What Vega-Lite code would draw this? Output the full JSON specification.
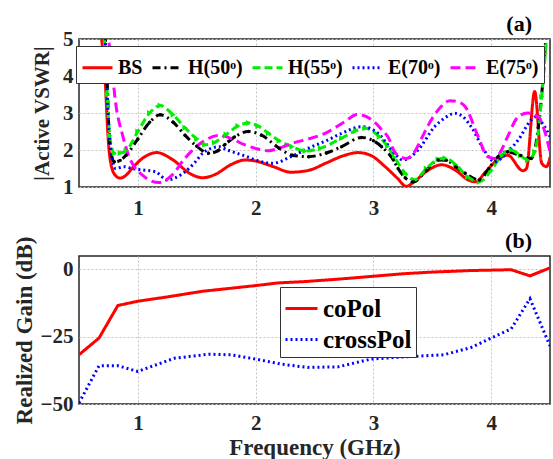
{
  "$schema": "https://vega.github.io/schema/vega-lite/v6.json",
  "background": "white",
  "padding": {"left": 12, "top": 12, "right": 6, "bottom": 5},
  "spacing": 10,
  "resolve": {"scale": {"color": "independent", "strokeDash": "independent"}, "legend": {"color": "independent", "strokeDash": "independent"}},
  "config": {
    "font": "Liberation Serif",
    "view": {"stroke": "#262626", "strokeWidth": 1.5},
    "axis": {
      "labelFont": "Liberation Serif", "labelFontWeight": "bold", "labelFontSize": 21, "labelColor": "#262626",
      "titleFont": "Liberation Serif", "titleFontWeight": "bold", "titleFontSize": 23, "titleColor": "#262626",
      "grid": true, "gridColor": "#c4c4c4", "gridDash": [2, 2], "gridWidth": 1,
      "domain": false, "ticks": false
    },
    "title": {"font": "Liberation Serif", "fontWeight": "bold", "fontSize": 22, "color": "#000000", "frame": "group"}
  },
  "datasets": {
    "vswr": [
      {"series": "BS", "f": 0.68, "v": 5.3}, {"series": "BS", "f": 0.72, "v": 4.0}, {"series": "BS", "f": 0.75, "v": 2.2}, {"series": "BS", "f": 0.78, "v": 1.5}, {"series": "BS", "f": 0.82, "v": 1.28}, {"series": "BS", "f": 0.85, "v": 1.24}, {"series": "BS", "f": 0.9, "v": 1.32}, {"series": "BS", "f": 0.95, "v": 1.5}, {"series": "BS", "f": 1.05, "v": 1.8}, {"series": "BS", "f": 1.16, "v": 1.93}, {"series": "BS", "f": 1.29, "v": 1.75}, {"series": "BS", "f": 1.45, "v": 1.35}, {"series": "BS", "f": 1.55, "v": 1.25}, {"series": "BS", "f": 1.65, "v": 1.33}, {"series": "BS", "f": 1.8, "v": 1.62}, {"series": "BS", "f": 1.91, "v": 1.73}, {"series": "BS", "f": 2.0, "v": 1.7}, {"series": "BS", "f": 2.15, "v": 1.55}, {"series": "BS", "f": 2.3, "v": 1.4}, {"series": "BS", "f": 2.45, "v": 1.45}, {"series": "BS", "f": 2.6, "v": 1.65}, {"series": "BS", "f": 2.75, "v": 1.85}, {"series": "BS", "f": 2.87, "v": 1.93}, {"series": "BS", "f": 2.98, "v": 1.85}, {"series": "BS", "f": 3.1, "v": 1.55}, {"series": "BS", "f": 3.2, "v": 1.25}, {"series": "BS", "f": 3.28, "v": 1.02}, {"series": "BS", "f": 3.35, "v": 1.15}, {"series": "BS", "f": 3.45, "v": 1.42}, {"series": "BS", "f": 3.58, "v": 1.6}, {"series": "BS", "f": 3.7, "v": 1.45}, {"series": "BS", "f": 3.8, "v": 1.2}, {"series": "BS", "f": 3.87, "v": 1.14}, {"series": "BS", "f": 3.95, "v": 1.4}, {"series": "BS", "f": 4.05, "v": 1.72}, {"series": "BS", "f": 4.14, "v": 1.86}, {"series": "BS", "f": 4.27, "v": 1.44}, {"series": "BS", "f": 4.3, "v": 1.5}, {"series": "BS", "f": 4.37, "v": 3.58}, {"series": "BS", "f": 4.43, "v": 1.64}, {"series": "BS", "f": 4.47, "v": 1.55}, {"series": "BS", "f": 4.5, "v": 1.8},

      {"series": "H(50ᵒ)", "f": 0.72, "v": 5.3}, {"series": "H(50ᵒ)", "f": 0.74, "v": 3.8}, {"series": "H(50ᵒ)", "f": 0.76, "v": 2.2}, {"series": "H(50ᵒ)", "f": 0.8, "v": 1.68}, {"series": "H(50ᵒ)", "f": 0.85, "v": 1.72}, {"series": "H(50ᵒ)", "f": 0.9, "v": 1.86}, {"series": "H(50ᵒ)", "f": 1.0, "v": 2.3}, {"series": "H(50ᵒ)", "f": 1.1, "v": 2.75}, {"series": "H(50ᵒ)", "f": 1.19, "v": 2.95}, {"series": "H(50ᵒ)", "f": 1.3, "v": 2.75}, {"series": "H(50ᵒ)", "f": 1.4, "v": 2.4}, {"series": "H(50ᵒ)", "f": 1.5, "v": 2.1}, {"series": "H(50ᵒ)", "f": 1.6, "v": 1.91}, {"series": "H(50ᵒ)", "f": 1.68, "v": 1.98}, {"series": "H(50ᵒ)", "f": 1.74, "v": 2.15}, {"series": "H(50ᵒ)", "f": 1.82, "v": 2.35}, {"series": "H(50ᵒ)", "f": 1.94, "v": 2.5}, {"series": "H(50ᵒ)", "f": 2.05, "v": 2.4}, {"series": "H(50ᵒ)", "f": 2.2, "v": 2.05}, {"series": "H(50ᵒ)", "f": 2.31, "v": 1.86}, {"series": "H(50ᵒ)", "f": 2.45, "v": 1.82}, {"series": "H(50ᵒ)", "f": 2.6, "v": 1.92}, {"series": "H(50ᵒ)", "f": 2.73, "v": 2.09}, {"series": "H(50ᵒ)", "f": 2.9, "v": 2.34}, {"series": "H(50ᵒ)", "f": 3.0, "v": 2.25}, {"series": "H(50ᵒ)", "f": 3.07, "v": 2.09}, {"series": "H(50ᵒ)", "f": 3.17, "v": 1.73}, {"series": "H(50ᵒ)", "f": 3.21, "v": 1.5}, {"series": "H(50ᵒ)", "f": 3.27, "v": 1.25}, {"series": "H(50ᵒ)", "f": 3.34, "v": 1.14}, {"series": "H(50ᵒ)", "f": 3.45, "v": 1.45}, {"series": "H(50ᵒ)", "f": 3.55, "v": 1.73}, {"series": "H(50ᵒ)", "f": 3.62, "v": 1.72}, {"series": "H(50ᵒ)", "f": 3.7, "v": 1.55}, {"series": "H(50ᵒ)", "f": 3.78, "v": 1.37}, {"series": "H(50ᵒ)", "f": 3.9, "v": 1.19}, {"series": "H(50ᵒ)", "f": 3.98, "v": 1.5}, {"series": "H(50ᵒ)", "f": 4.06, "v": 1.82}, {"series": "H(50ᵒ)", "f": 4.14, "v": 1.95}, {"series": "H(50ᵒ)", "f": 4.25, "v": 1.85}, {"series": "H(50ᵒ)", "f": 4.34, "v": 1.77}, {"series": "H(50ᵒ)", "f": 4.4, "v": 2.6}, {"series": "H(50ᵒ)", "f": 4.44, "v": 3.9}, {"series": "H(50ᵒ)", "f": 4.47, "v": 5.3},

      {"series": "H(55ᵒ)", "f": 0.71, "v": 5.3}, {"series": "H(55ᵒ)", "f": 0.74, "v": 3.5}, {"series": "H(55ᵒ)", "f": 0.76, "v": 2.4}, {"series": "H(55ᵒ)", "f": 0.8, "v": 1.91}, {"series": "H(55ᵒ)", "f": 0.85, "v": 1.92}, {"series": "H(55ᵒ)", "f": 0.9, "v": 1.98}, {"series": "H(55ᵒ)", "f": 1.0, "v": 2.5}, {"series": "H(55ᵒ)", "f": 1.1, "v": 3.0}, {"series": "H(55ᵒ)", "f": 1.19, "v": 3.2}, {"series": "H(55ᵒ)", "f": 1.3, "v": 2.95}, {"series": "H(55ᵒ)", "f": 1.4, "v": 2.6}, {"series": "H(55ᵒ)", "f": 1.5, "v": 2.3}, {"series": "H(55ᵒ)", "f": 1.57, "v": 2.14}, {"series": "H(55ᵒ)", "f": 1.65, "v": 2.2}, {"series": "H(55ᵒ)", "f": 1.75, "v": 2.42}, {"series": "H(55ᵒ)", "f": 1.85, "v": 2.65}, {"series": "H(55ᵒ)", "f": 1.94, "v": 2.73}, {"series": "H(55ᵒ)", "f": 2.02, "v": 2.65}, {"series": "H(55ᵒ)", "f": 2.11, "v": 2.45}, {"series": "H(55ᵒ)", "f": 2.2, "v": 2.25}, {"series": "H(55ᵒ)", "f": 2.31, "v": 2.09}, {"series": "H(55ᵒ)", "f": 2.42, "v": 1.97}, {"series": "H(55ᵒ)", "f": 2.55, "v": 2.05}, {"series": "H(55ᵒ)", "f": 2.73, "v": 2.32}, {"series": "H(55ᵒ)", "f": 2.85, "v": 2.52}, {"series": "H(55ᵒ)", "f": 2.93, "v": 2.59}, {"series": "H(55ᵒ)", "f": 3.05, "v": 2.36}, {"series": "H(55ᵒ)", "f": 3.12, "v": 2.1}, {"series": "H(55ᵒ)", "f": 3.18, "v": 1.8}, {"series": "H(55ᵒ)", "f": 3.27, "v": 1.37}, {"series": "H(55ᵒ)", "f": 3.35, "v": 1.19}, {"series": "H(55ᵒ)", "f": 3.45, "v": 1.5}, {"series": "H(55ᵒ)", "f": 3.55, "v": 1.75}, {"series": "H(55ᵒ)", "f": 3.61, "v": 1.78}, {"series": "H(55ᵒ)", "f": 3.7, "v": 1.6}, {"series": "H(55ᵒ)", "f": 3.8, "v": 1.28}, {"series": "H(55ᵒ)", "f": 3.9, "v": 1.14}, {"series": "H(55ᵒ)", "f": 4.0, "v": 1.45}, {"series": "H(55ᵒ)", "f": 4.09, "v": 1.86}, {"series": "H(55ᵒ)", "f": 4.17, "v": 2.0}, {"series": "H(55ᵒ)", "f": 4.25, "v": 1.85}, {"series": "H(55ᵒ)", "f": 4.31, "v": 1.73}, {"series": "H(55ᵒ)", "f": 4.37, "v": 1.95}, {"series": "H(55ᵒ)", "f": 4.43, "v": 3.44}, {"series": "H(55ᵒ)", "f": 4.46, "v": 4.6}, {"series": "H(55ᵒ)", "f": 4.48, "v": 5.3},

      {"series": "E(70ᵒ)", "f": 0.72, "v": 5.3}, {"series": "E(70ᵒ)", "f": 0.74, "v": 3.5}, {"series": "E(70ᵒ)", "f": 0.76, "v": 2.32}, {"series": "E(70ᵒ)", "f": 0.81, "v": 1.5}, {"series": "E(70ᵒ)", "f": 0.88, "v": 1.55}, {"series": "E(70ᵒ)", "f": 0.95, "v": 1.5}, {"series": "E(70ᵒ)", "f": 1.04, "v": 1.46}, {"series": "E(70ᵒ)", "f": 1.15, "v": 1.41}, {"series": "E(70ᵒ)", "f": 1.25, "v": 1.19}, {"series": "E(70ᵒ)", "f": 1.32, "v": 1.25}, {"series": "E(70ᵒ)", "f": 1.4, "v": 1.41}, {"series": "E(70ᵒ)", "f": 1.48, "v": 1.65}, {"series": "E(70ᵒ)", "f": 1.55, "v": 1.91}, {"series": "E(70ᵒ)", "f": 1.69, "v": 2.09}, {"series": "E(70ᵒ)", "f": 1.76, "v": 2.0}, {"series": "E(70ᵒ)", "f": 1.9, "v": 1.85}, {"series": "E(70ᵒ)", "f": 2.03, "v": 1.7}, {"series": "E(70ᵒ)", "f": 2.14, "v": 1.64}, {"series": "E(70ᵒ)", "f": 2.3, "v": 1.82}, {"series": "E(70ᵒ)", "f": 2.45, "v": 2.05}, {"series": "E(70ᵒ)", "f": 2.6, "v": 2.25}, {"series": "E(70ᵒ)", "f": 2.73, "v": 2.45}, {"series": "E(70ᵒ)", "f": 2.9, "v": 2.63}, {"series": "E(70ᵒ)", "f": 3.04, "v": 2.45}, {"series": "E(70ᵒ)", "f": 3.12, "v": 2.15}, {"series": "E(70ᵒ)", "f": 3.18, "v": 1.91}, {"series": "E(70ᵒ)", "f": 3.25, "v": 1.73}, {"series": "E(70ᵒ)", "f": 3.38, "v": 2.0}, {"series": "E(70ᵒ)", "f": 3.52, "v": 2.63}, {"series": "E(70ᵒ)", "f": 3.6, "v": 2.85}, {"series": "E(70ᵒ)", "f": 3.69, "v": 2.99}, {"series": "E(70ᵒ)", "f": 3.76, "v": 2.9}, {"series": "E(70ᵒ)", "f": 3.83, "v": 2.63}, {"series": "E(70ᵒ)", "f": 3.95, "v": 1.95}, {"series": "E(70ᵒ)", "f": 4.03, "v": 1.68}, {"series": "E(70ᵒ)", "f": 4.14, "v": 1.95}, {"series": "E(70ᵒ)", "f": 4.23, "v": 2.27}, {"series": "E(70ᵒ)", "f": 4.34, "v": 2.81}, {"series": "E(70ᵒ)", "f": 4.38, "v": 2.9}, {"series": "E(70ᵒ)", "f": 4.44, "v": 2.7}, {"series": "E(70ᵒ)", "f": 4.5, "v": 2.36},

      {"series": "E(75ᵒ)", "f": 0.74, "v": 5.3}, {"series": "E(75ᵒ)", "f": 0.78, "v": 4.2}, {"series": "E(75ᵒ)", "f": 0.81, "v": 3.3}, {"series": "E(75ᵒ)", "f": 0.87, "v": 2.4}, {"series": "E(75ᵒ)", "f": 0.92, "v": 1.86}, {"series": "E(75ᵒ)", "f": 0.98, "v": 1.5}, {"series": "E(75ᵒ)", "f": 1.04, "v": 1.32}, {"series": "E(75ᵒ)", "f": 1.1, "v": 1.18}, {"series": "E(75ᵒ)", "f": 1.18, "v": 1.12}, {"series": "E(75ᵒ)", "f": 1.29, "v": 1.32}, {"series": "E(75ᵒ)", "f": 1.4, "v": 1.78}, {"series": "E(75ᵒ)", "f": 1.55, "v": 2.22}, {"series": "E(75ᵒ)", "f": 1.7, "v": 2.4}, {"series": "E(75ᵒ)", "f": 1.8, "v": 2.3}, {"series": "E(75ᵒ)", "f": 1.9, "v": 2.15}, {"series": "E(75ᵒ)", "f": 2.03, "v": 2.02}, {"series": "E(75ᵒ)", "f": 2.11, "v": 1.98}, {"series": "E(75ᵒ)", "f": 2.2, "v": 2.05}, {"series": "E(75ᵒ)", "f": 2.31, "v": 2.18}, {"series": "E(75ᵒ)", "f": 2.45, "v": 2.3}, {"series": "E(75ᵒ)", "f": 2.59, "v": 2.45}, {"series": "E(75ᵒ)", "f": 2.76, "v": 2.77}, {"series": "E(75ᵒ)", "f": 2.86, "v": 2.96}, {"series": "E(75ᵒ)", "f": 2.99, "v": 2.81}, {"series": "E(75ᵒ)", "f": 3.07, "v": 2.55}, {"series": "E(75ᵒ)", "f": 3.13, "v": 2.32}, {"series": "E(75ᵒ)", "f": 3.18, "v": 1.95}, {"series": "E(75ᵒ)", "f": 3.23, "v": 1.82}, {"series": "E(75ᵒ)", "f": 3.28, "v": 1.77}, {"series": "E(75ᵒ)", "f": 3.35, "v": 1.95}, {"series": "E(75ᵒ)", "f": 3.41, "v": 2.32}, {"series": "E(75ᵒ)", "f": 3.48, "v": 2.75}, {"series": "E(75ᵒ)", "f": 3.55, "v": 3.08}, {"series": "E(75ᵒ)", "f": 3.65, "v": 3.33}, {"series": "E(75ᵒ)", "f": 3.72, "v": 3.3}, {"series": "E(75ᵒ)", "f": 3.78, "v": 3.17}, {"series": "E(75ᵒ)", "f": 3.89, "v": 2.36}, {"series": "E(75ᵒ)", "f": 3.97, "v": 1.82}, {"series": "E(75ᵒ)", "f": 4.03, "v": 1.77}, {"series": "E(75ᵒ)", "f": 4.08, "v": 1.95}, {"series": "E(75ᵒ)", "f": 4.14, "v": 2.36}, {"series": "E(75ᵒ)", "f": 4.23, "v": 2.9}, {"series": "E(75ᵒ)", "f": 4.31, "v": 3.0}, {"series": "E(75ᵒ)", "f": 4.4, "v": 2.9}, {"series": "E(75ᵒ)", "f": 4.46, "v": 2.45}, {"series": "E(75ᵒ)", "f": 4.5, "v": 1.95}
    ],
    "gain": [
      {"series": "coPol", "f": 0.5, "g": -31.7}, {"series": "coPol", "f": 0.67, "g": -25.5}, {"series": "coPol", "f": 0.83, "g": -13.4}, {"series": "coPol", "f": 1.0, "g": -11.8}, {"series": "coPol", "f": 1.25, "g": -10.2}, {"series": "coPol", "f": 1.55, "g": -8.1}, {"series": "coPol", "f": 1.83, "g": -6.8}, {"series": "coPol", "f": 2.0, "g": -6.0}, {"series": "coPol", "f": 2.19, "g": -5.0}, {"series": "coPol", "f": 2.42, "g": -4.5}, {"series": "coPol", "f": 2.7, "g": -3.6}, {"series": "coPol", "f": 2.98, "g": -2.6}, {"series": "coPol", "f": 3.25, "g": -1.6}, {"series": "coPol", "f": 3.49, "g": -1.0}, {"series": "coPol", "f": 3.83, "g": -0.4}, {"series": "coPol", "f": 4.17, "g": -0.1}, {"series": "coPol", "f": 4.33, "g": -2.4}, {"series": "coPol", "f": 4.5, "g": 0.6},
      {"series": "crossPol", "f": 0.5, "g": -49.6}, {"series": "crossPol", "f": 0.67, "g": -35.8}, {"series": "crossPol", "f": 0.83, "g": -35.8}, {"series": "crossPol", "f": 1.0, "g": -37.9}, {"series": "crossPol", "f": 1.17, "g": -35.2}, {"series": "crossPol", "f": 1.31, "g": -33.0}, {"series": "crossPol", "f": 1.6, "g": -31.5}, {"series": "crossPol", "f": 1.79, "g": -31.7}, {"series": "crossPol", "f": 2.0, "g": -33.3}, {"series": "crossPol", "f": 2.22, "g": -35.2}, {"series": "crossPol", "f": 2.44, "g": -36.4}, {"series": "crossPol", "f": 2.7, "g": -36.2}, {"series": "crossPol", "f": 2.98, "g": -33.3}, {"series": "crossPol", "f": 3.26, "g": -32.5}, {"series": "crossPol", "f": 3.6, "g": -31.7}, {"series": "crossPol", "f": 3.83, "g": -29.0}, {"series": "crossPol", "f": 4.0, "g": -25.5}, {"series": "crossPol", "f": 4.17, "g": -22.1}, {"series": "crossPol", "f": 4.33, "g": -10.9}, {"series": "crossPol", "f": 4.5, "g": -28.4}
    ]
  },
  "vconcat": [
    {
      "width": 471,
      "height": 148,
      "title": {"text": "(a)", "anchor": "end", "offset": -8, "dx": -18},
      "data": {"name": "vswr"},
      "encoding": {
        "x": {"field": "f", "type": "quantitative", "scale": {"domain": [0.5, 4.5], "nice": false, "zero": false}, "axis": {"values": [1, 2, 3, 4], "title": null, "labelPadding": 10}},
        "y": {"field": "v", "type": "quantitative", "scale": {"domain": [1, 5], "nice": false, "zero": false}, "axis": {"values": [1, 2, 3, 4, 5], "title": "|Active VSWR|", "titleFontSize": 21, "labelPadding": 6, "titlePadding": 10}}
      },
      "layer": [
        {
          "mark": {"type": "line", "clip": true, "strokeWidth": 3, "interpolate": "monotone"},
          "encoding": {
            "color": {
              "field": "series", "type": "nominal", "sort": null,
              "scale": {"domain": ["BS", "H(50ᵒ)", "H(55ᵒ)", "E(70ᵒ)", "E(75ᵒ)"], "range": ["#ff0000", "#000000", "#00ee00", "#0000ff", "#ff00ff"]},
              "legend": {"title": null, "orient": "none", "legendX": -3, "legendY": 7, "direction": "horizontal", "columns": 5, "symbolType": "stroke", "symbolSize": 900, "symbolStrokeWidth": 3, "labelFont": "Liberation Serif", "labelFontWeight": "bold", "labelFontSize": 20, "labelColor": "#000000", "labelLimit": 300, "labelOffset": 4, "columnPadding": 3, "padding": 5, "fillColor": "white", "strokeColor": "#333333"}
            },
            "strokeDash": {
              "field": "series", "type": "nominal", "sort": null,
              "scale": {"domain": ["BS", "H(50ᵒ)", "H(55ᵒ)", "E(70ᵒ)", "E(75ᵒ)"], "range": [[1, 0], [8, 4, 2, 4], [8, 4], [2, 3], [10, 5]]}
            }
          }
        },
        {
          "transform": [{"filter": "datum.series === 'H(55ᵒ)'"}],
          "mark": {"type": "point", "shape": "triangle-right", "filled": true, "color": "#00ee00", "opacity": 1, "size": 36, "clip": true}
        },
        {
          "transform": [{"filter": "datum.series === 'H(50ᵒ)'"}],
          "mark": {"type": "point", "shape": "circle", "filled": true, "color": "#000000", "opacity": 1, "size": 12, "clip": true}
        }
      ]
    },
    {
      "width": 471,
      "height": 148,
      "title": {"text": "(b)", "anchor": "end", "offset": -17, "dx": -18},
      "data": {"name": "gain"},
      "mark": {"type": "line", "clip": true, "strokeWidth": 3},
      "encoding": {
        "x": {"field": "f", "type": "quantitative", "scale": {"domain": [0.5, 4.5], "nice": false, "zero": false}, "axis": {"values": [1, 2, 3, 4], "title": "Frequency (GHz)", "labelPadding": 8, "titlePadding": 3}},
        "y": {"field": "g", "type": "quantitative", "scale": {"domain": [-50, 5], "nice": false, "zero": false}, "axis": {"values": [-50, -25, 0], "title": "Realized Gain (dB)", "labelPadding": 6, "titlePadding": 4}},
        "color": {
          "field": "series", "type": "nominal", "sort": null,
          "scale": {"domain": ["coPol", "crossPol"], "range": ["#ff0000", "#0000ff"]},
          "legend": {"title": null, "orient": "none", "legendX": 201, "legendY": 31, "direction": "vertical", "symbolType": "stroke", "symbolSize": 1024, "symbolStrokeWidth": 3, "labelFont": "Liberation Serif", "labelFontWeight": "bold", "labelFontSize": 25, "labelColor": "#000000", "labelLimit": 300, "labelOffset": 4, "rowPadding": 0, "padding": 4, "fillColor": "white", "strokeColor": "#333333"}
        },
        "strokeDash": {
          "field": "series", "type": "nominal", "sort": null,
          "scale": {"domain": ["coPol", "crossPol"], "range": [[1, 0], [2, 3]]}
        }
      }
    }
  ]
}
